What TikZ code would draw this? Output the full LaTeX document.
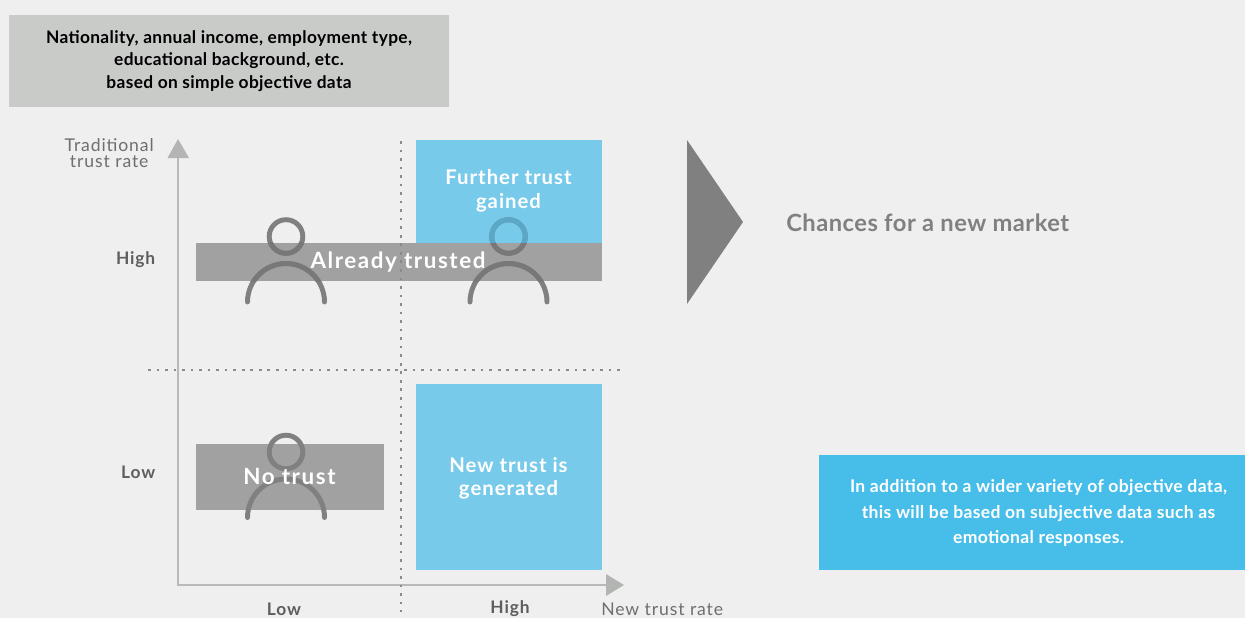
\documentclass[tikz,border=0pt]{standalone}
\usepackage{fontspec}
\setmainfont[LetterSpace=2]{Lato}
\newfontfamily\wideA[LetterSpace=5]{Lato}
\newfontfamily\wideB[LetterSpace=7]{Lato}
\definecolor{bgc}{HTML}{EFEFEF}
\definecolor{topbox}{HTML}{C9CBC9}
\definecolor{sky}{HTML}{78CAEB}
\definecolor{band}{HTML}{A1A1A1}
\definecolor{axisc}{HTML}{B8B9B8}
\definecolor{arrowc}{HTML}{B3B5B3}
\definecolor{person}{HTML}{808080}
\definecolor{persononband}{HTML}{787878}
\definecolor{personsky}{HTML}{5AA8C8}
\definecolor{dotc}{HTML}{8A8A8A}
\definecolor{txtgrey}{HTML}{6E6E6E}
\definecolor{txtchance}{HTML}{808080}
\definecolor{txtdark}{HTML}{5E5E5E}
\definecolor{rightbox}{HTML}{47BDE9}
\tikzset{x=0.75pt,y=-0.75pt,
 skylabel/.style={text=white,font=\wideA\fontsize{15.2}{17}\selectfont\bfseries,align=center,inner sep=0pt},
 bandlabel/.style={text=white,font=\wideB\fontsize{16.8}{17}\selectfont\bfseries,align=center,inner sep=0pt},
 axislabel/.style={text=txtdark,font=\wideA\fontsize{13}{15}\selectfont\bfseries,inner sep=0pt},
 axistitle/.style={text=txtgrey,font=\wideA\fontsize{13.2}{12}\selectfont,align=center,inner sep=0pt},
 dotline/.style={dotc,line width=1.5pt,dash pattern=on 2pt off 4.4pt},
 axisline/.style={axisc,line width=2.2pt},
 arrowhead/.style={fill=arrowc,draw=none},
 personline/.style={line width=3.7pt,line cap=round},
 fillbox/.style={draw=none,inner sep=0pt,anchor=north west}}
\newcommand{\personat}[3]{% x, head y, colour
 \draw[personline,#3] (#1,#2) circle[radius=16.8];
 \draw[personline,#3] (#1-38.5,#2+65.5) arc[start angle=180,end angle=360,radius=38.5];
}
\begin{document}
\begin{tikzpicture}
\useasboundingbox (0,0) rectangle (1245,618);
\fill[bgc] (0,0) rectangle (1245,618);
% top grey box
\node[fillbox,fill=topbox,minimum width=330pt,minimum height=69pt] (topb) at (9,15) {};
\node[text=black,font=\fontsize{13}{17}\selectfont\bfseries,align=center,inner sep=0pt] (toptext) at (229,61)
 {Nationality, annual income, employment type,\\educational background, etc.\\based on simple objective data};
% blue boxes
\node[fillbox,fill=sky,minimum width=139.5pt,minimum height=77pt] (further) at (416,140) {};
\node[fillbox,fill=sky,minimum width=139.5pt,minimum height=139.5pt] (newtrust) at (416,384) {};
% grey bands
\node[fillbox,fill=band,minimum width=304.5pt,minimum height=29pt] (already) at (196,242.5) {};
\node[fillbox,fill=band,minimum width=141pt,minimum height=49.5pt] (notrust) at (196,444) {};
% axes
\coordinate (origin) at (178,585);
\coordinate (ytip) at (178,158);
\coordinate (xtip) at (606,585);
\draw[axisline] (ytip) -- (origin) -- (xtip);
\fill[arrowhead] (178,139) -- (189,158) -- (167.5,158) -- cycle;
\fill[arrowhead] (624,585) -- (606,574) -- (606,596) -- cycle;
% persons
\personat{286}{236.5}{person}
\personat{508.5}{236.5}{person}
\personat{286}{452}{person}
\begin{scope}
 \clip (196,242.5) rectangle (602,281.5);
 \personat{286}{236.5}{persononband}
 \personat{508.5}{236.5}{persononband}
\end{scope}
\begin{scope}
 \clip (416,140) rectangle (602,242.5);
 \personat{508.5}{236.5}{personsky}
\end{scope}
% dotted lines
\coordinate (vt) at (401,141);
\coordinate (vb) at (401,612);
\coordinate (hl) at (148,370);
\coordinate (hr) at (624,370);
\draw[dotline] (vt) -- (vb);
\draw[dotline] (hl) -- (hr);
% big triangle
\fill[person] (687,140) -- (743,222) -- (687,304) -- cycle;
% right box
\node[fillbox,fill=rightbox,minimum width=319.5pt,minimum height=86.25pt] (rbox) at (819,455) {};
\node[text=white,font=\fontsize{13.15}{19}\selectfont\bfseries,align=center,inner sep=0pt] (rtext) at (1038.5,513)
 {In addition to a wider variety of objective data,\\this will be based on subjective data such as\\emotional responses.};
% labels
\node[skylabel] (l1) at (508.5,191) {Further trust\\[0.6pt]gained};
\node[bandlabel] (l2) at (398,262) {Already trusted};
\node[bandlabel] (l3) at (289.5,476.5) {No trust};
\node[skylabel] (l4) at (508.5,478) {New trust is\\[0pt]generated};
\node[text=txtchance,font=\fontsize{17.8}{19}\selectfont\bfseries,inner sep=0pt,anchor=west] (chances) at (786,222.5) {Chances for a new market};
\node[axislabel,anchor=east] (yhigh) at (155.5,260) {High};
\node[axislabel,anchor=east] (ylow) at (155.5,472) {Low};
\node[axislabel] (xlow) at (284,609) {Low};
\node[axislabel] (xhigh) at (510,608.5) {High};
\node[axistitle,anchor=east] (ytitle) at (154,153) {Traditional\\trust rate\hspace{3pt}};
\node[axistitle,anchor=west] (xtitle) at (601,609) {New trust rate};
\end{tikzpicture}
\end{document}
